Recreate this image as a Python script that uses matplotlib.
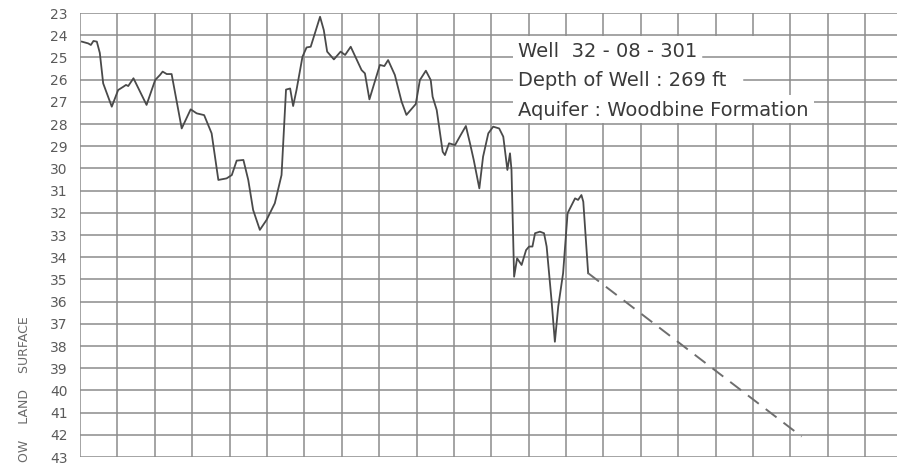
import matplotlib.pyplot as plt
from matplotlib.patches import Rectangle

# hydrograph trace, x in grid columns, y = depth to water (ft)
x_cols = [0.05, 0.22, 0.29, 0.36, 0.45, 0.53, 0.62, 0.85, 1.02, 1.16, 1.23, 1.29,
          1.43, 1.78, 2.01, 2.14, 2.21, 2.32, 2.45, 2.72, 2.96, 3.12, 3.32, 3.52,
          3.70, 3.92, 4.06, 4.19, 4.37, 4.50, 4.63, 4.81, 4.99, 5.21, 5.39, 5.51,
          5.62, 5.70, 5.79, 5.95, 6.06, 6.17, 6.42, 6.52, 6.61, 6.79, 6.97, 7.09,
          7.24, 7.53, 7.62, 7.74, 8.02, 8.14, 8.24, 8.42, 8.60, 8.73, 8.98, 9.09,
          9.25, 9.38, 9.43, 9.54, 9.70, 9.76, 9.87, 10.03, 10.18, 10.32, 10.43,
          10.53, 10.68, 10.78, 10.92, 11.05, 11.21, 11.32, 11.43, 11.50, 11.54,
          11.61, 11.69, 11.81, 11.93, 12.01, 12.10, 12.17, 12.30, 12.41, 12.48,
          12.61, 12.70, 12.79, 12.92, 13.04, 13.15, 13.24, 13.32, 13.41, 13.46,
          13.59]
depth = [24.29, 24.37, 24.44, 24.26, 24.29, 24.80, 26.17, 27.22, 26.47, 26.32, 26.24, 26.29,
         25.94, 27.14, 26.02, 25.79, 25.64, 25.75, 25.75, 28.20, 27.34, 27.52, 27.60, 28.42,
         30.52, 30.45, 30.30, 29.65, 29.62, 30.52, 31.87, 32.77, 32.32, 31.57, 30.30, 26.45,
         26.40, 27.19, 26.47, 24.97, 24.55, 24.52, 23.17, 23.77, 24.74, 25.09, 24.74, 24.89,
         24.52, 25.57, 25.72, 26.89, 25.34, 25.39, 25.12, 25.79, 26.99, 27.59, 27.10, 26.02,
         25.60, 26.02, 26.77, 27.37, 29.25, 29.40, 28.87, 28.95, 28.50, 28.09, 28.87,
         29.62, 30.90, 29.47, 28.42, 28.12, 28.20, 28.57, 30.07, 29.32, 30.07,
         34.88, 34.05, 34.35, 33.68, 33.52, 33.52, 32.92, 32.85, 32.92, 33.52,
         35.93, 37.81, 36.22, 34.72, 32.02, 31.65, 31.35, 31.42, 31.20, 31.50,
         34.72]

# projected trend (dashed)
trend_x = [13.59, 19.30]
trend_y = [34.72, 42.08]

depth_ticks = list(range(23, 44))
col_lines = list(range(0, 22))
label_lines = ["Well  32 - 08 - 301", "Depth of Well : 269 ft", "Aquifer : Woodbine Formation"]
label_y = [24.98, 26.28, 27.62]

grid_c = "#8c8c8c"
ink = "#4a4a4a"

fig = plt.figure(figsize=(8.97, 4.66), dpi=100)
ax = fig.add_axes([80 / 897, 1 - 457 / 466, 1 - 80 / 897, 444 / 466])
ax.set_xlim(0, 21.85)
ax.set_ylim(43, 23)

ax.set_yticks(depth_ticks)
ax.set_xticks([])
ax.tick_params(axis="both", length=0, pad=9)
ax.tick_params(axis="y", labelsize=10, labelcolor="#5a5a5a")
for side in ax.spines:
    ax.spines[side].set_visible(False)

# graph-paper grid
ax.hlines(depth_ticks, 0, 21.85, color=grid_c, linewidth=1.1, zorder=1)
ax.vlines(col_lines, 23, 43, color=grid_c, linewidth=1.1, zorder=1)

ax.plot(x_cols, depth, color=ink, linewidth=1.3, zorder=4)
ax.plot(trend_x, trend_y, color="#6e6e6e", linewidth=1.4,
        linestyle=(0, (7, 4.5)), zorder=4)

# white label area over the grid
ax.add_patch(Rectangle((11.58, 24.04), 18.95 - 11.58, 27.95 - 24.04,
                       facecolor="white", edgecolor="none", zorder=2))
ax.add_patch(Rectangle((18.9, 26.7), 19.62 - 18.9, 27.95 - 26.7,
                       facecolor="white", edgecolor="none", zorder=2))
# leader lines after the text
ax.plot([16.65, 18.95], [25, 25], color=grid_c, linewidth=1.1, zorder=3)
ax.plot([17.75, 18.95], [26, 26], color=grid_c, linewidth=1.1, zorder=3)

for txt, yy in zip(label_lines, label_y):
    ax.text(11.72, yy, txt, fontsize=14, color="#3a3a3a", va="baseline",
            ha="left", zorder=5)

fig.text(24 / 897, 1 - 462 / 466, "OW    LAND    SURFACE",
         rotation=90, ha="center", va="bottom", fontsize=9, color="#6a6a6a")

fig.savefig("out.png", dpi=100)
